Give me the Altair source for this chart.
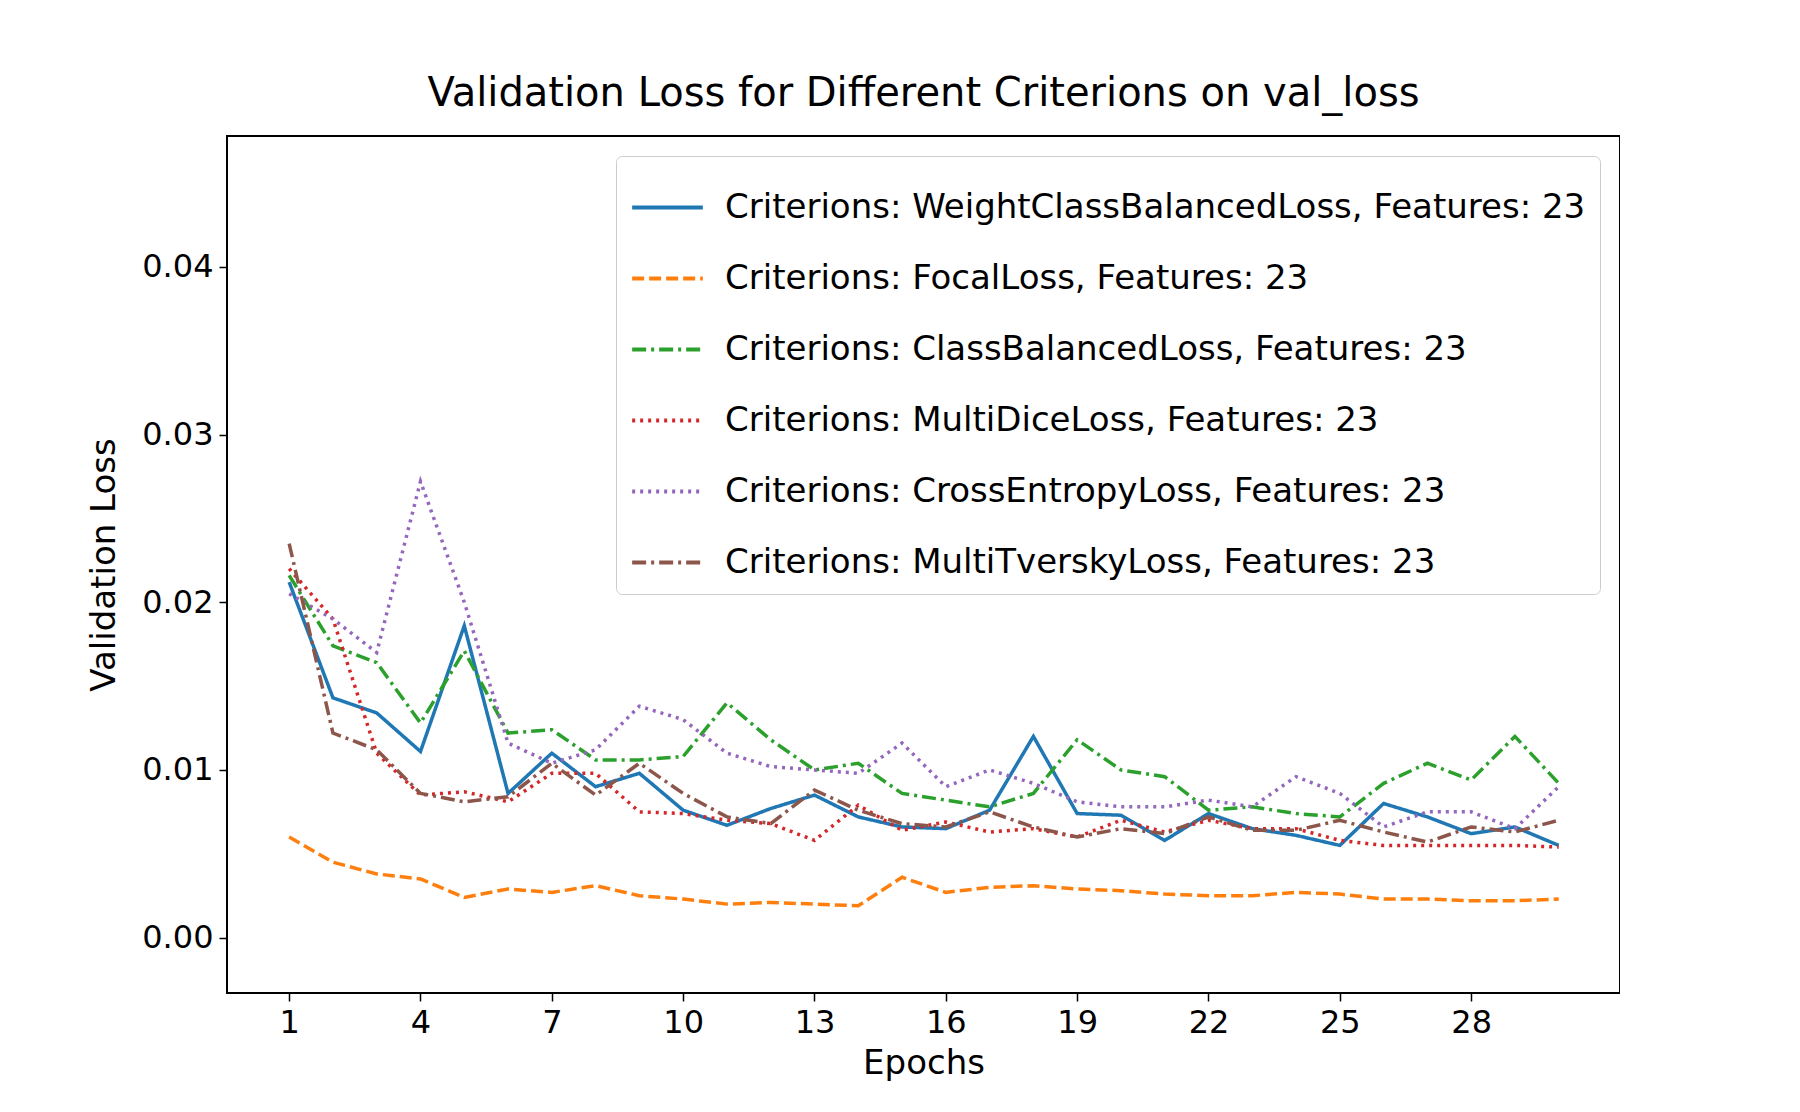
import altair as alt
import pandas as pd

epochs = list(range(1, 31))
names = ["WeightClassBalancedLoss", "FocalLoss", "ClassBalancedLoss", "MultiDiceLoss", "CrossEntropyLoss", "MultiTverskyLoss"]
wcb = [0.0212,0.0143,0.0134,0.0111,0.0186,0.0086,0.0110,0.0090,0.0098,0.0076,0.0067,0.0077,0.0085,0.0072,0.0066,0.0065,0.0076,0.0120,0.0074,0.0073,0.0058,0.0074,0.0065,0.0061,0.0055,0.0080,0.0072,0.0062,0.0066,0.0055]
focal = [0.0060,0.0045,0.0038,0.0035,0.0024,0.0029,0.0027,0.0031,0.0025,0.0023,0.0020,0.0021,0.0020,0.0019,0.0036,0.0027,0.0030,0.0031,0.0029,0.0028,0.0026,0.0025,0.0025,0.0027,0.0026,0.0023,0.0023,0.0022,0.0022,0.0023]
cb = [0.0216,0.0174,0.0164,0.0128,0.0171,0.0122,0.0124,0.0106,0.0106,0.0108,0.0140,0.0118,0.0100,0.0104,0.0086,0.0082,0.0078,0.0086,0.0118,0.0100,0.0096,0.0076,0.0078,0.0074,0.0072,0.0092,0.0104,0.0094,0.0120,0.0092]
dice = [0.0220,0.0190,0.0110,0.0085,0.0087,0.0081,0.0098,0.0098,0.0075,0.0074,0.0070,0.0068,0.0058,0.0079,0.0064,0.0069,0.0063,0.0065,0.0060,0.0070,0.0063,0.0070,0.0065,0.0065,0.0058,0.0055,0.0055,0.0055,0.0055,0.0054]
ce = [0.0205,0.0190,0.0170,0.0272,0.0200,0.0116,0.0104,0.0112,0.0138,0.0130,0.0110,0.0102,0.0100,0.0098,0.0116,0.0090,0.0100,0.0092,0.0081,0.0078,0.0078,0.0082,0.0078,0.0096,0.0086,0.0066,0.0075,0.0075,0.0065,0.0090]
tversky = [0.0235,0.0122,0.0112,0.0086,0.0081,0.0084,0.0104,0.0085,0.0104,0.0086,0.0072,0.0068,0.0088,0.0076,0.0068,0.0066,0.0075,0.0066,0.0060,0.0065,0.0062,0.0072,0.0064,0.0064,0.0070,0.0063,0.0057,0.0066,0.0063,0.0070]
series = [wcb, focal, cb, dice, ce, tversky]
colors = ["#1f77b4", "#ff7f0e", "#2ca02c", "#d62728", "#9467bd", "#8c564b"]
dashes = [[1, 0], [12, 5], [14, 5, 3, 5], [3, 5], [3, 5], [14, 5, 3, 5]]
labels = [f"Criterions: {n}, Features: 23" for n in names]

rows = []
for lab, vals in zip(labels, series):
    for e, v in zip(epochs, vals):
        rows.append({"Epoch": e, "Loss": v, "Series": lab})
df = pd.DataFrame(rows)

chart = alt.Chart(df).mark_line(strokeWidth=3.5, clip=True).encode(
    x=alt.X("Epoch:Q", scale=alt.Scale(domain=[-0.42, 31.4], nice=False, zero=False),
            axis=alt.Axis(values=list(range(1, 31, 3)), title="Epochs", grid=False, titlePadding=8)),
    y=alt.Y("Loss:Q", scale=alt.Scale(domain=[-0.0033, 0.0478], nice=False),
            axis=alt.Axis(values=[0, 0.01, 0.02, 0.03, 0.04], format=".2f", title="Validation Loss", grid=False, titlePadding=20)),
    color=alt.Color("Series:N", scale=alt.Scale(domain=labels, range=colors), sort=labels,
                    legend=alt.Legend(title=None, orient="top-right", symbolType="stroke", symbolSize=5000,
                                      symbolStrokeWidth=4, labelFontSize=34, labelFont="DejaVu Sans",
                                      strokeColor="#cccccc", fillColor="white", padding=14, rowPadding=16,
                                      cornerRadius=6, labelLimit=1500, offset=20, labelOffset=20)),
    strokeDash=alt.StrokeDash("Series:N", scale=alt.Scale(domain=labels, range=dashes), sort=labels, legend=None),
).properties(
    width=1393, height=857,
    title=alt.TitleParams("Validation Loss for Different Criterions on val_loss", fontSize=40,
                          font="DejaVu Sans", fontWeight="normal", offset=22),
    autosize=alt.AutoSizeParams(type="none"),
    padding={"left": 219, "top": 128, "right": 0, "bottom": 120},
).configure_axis(
    labelFontSize=32, titleFontSize=34, labelFont="DejaVu Sans", titleFont="DejaVu Sans",
    titleFontWeight="normal", labelColor="black", titleColor="black", domainColor="black",
    tickColor="black", tickSize=8, tickWidth=1.5, labelPadding=6,
).configure_view(stroke="black", strokeWidth=2)

chart.save("out.html", embed_options={"renderer": "svg", "actions": False})
